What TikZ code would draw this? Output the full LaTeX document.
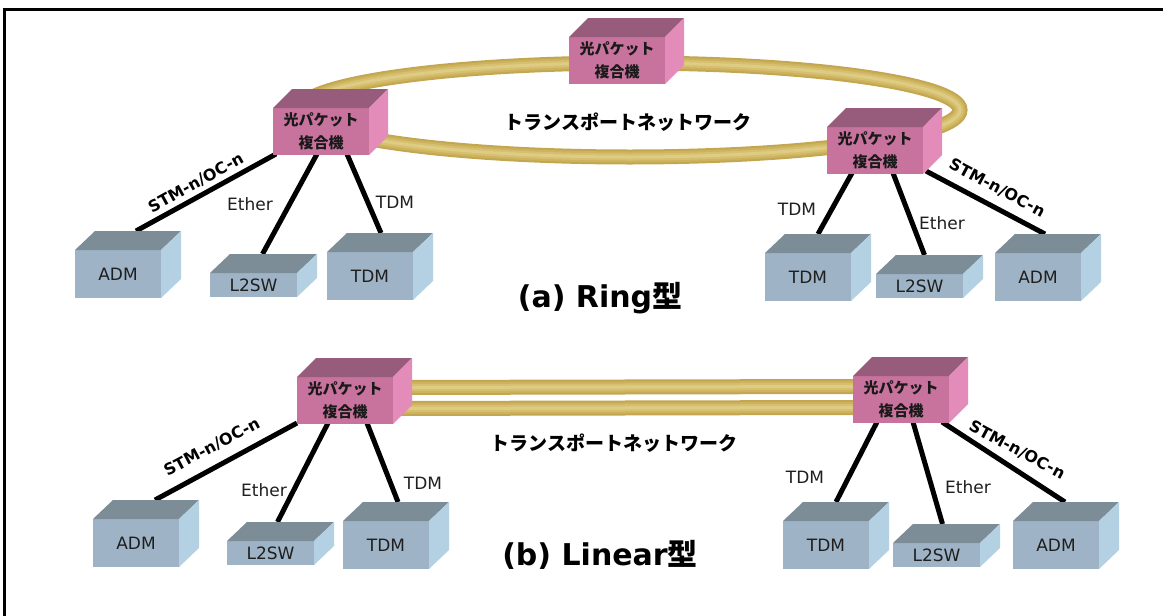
\documentclass[tikz,border=0pt]{standalone}
\usepackage{fontspec}
\setmainfont{DejaVu Sans}
\newfontfamily\jp{Noto Sans CJK JP}
\usetikzlibrary{calc,backgrounds}
\definecolor{mgF}{HTML}{C8739D}
\definecolor{mgT}{HTML}{975B7B}
\definecolor{mgS}{HTML}{E38CBA}
\definecolor{blF}{HTML}{9EB4C6}
\definecolor{blT}{HTML}{7C8D97}
\definecolor{blS}{HTML}{B3D1E3}
\definecolor{gdA}{HTML}{C3A650}
\definecolor{gdB}{HTML}{CDB35E}
\definecolor{gdC}{HTML}{D6C06F}
\definecolor{gdD}{HTML}{DECB84}
\tikzset{
  mgfront/.style={rectangle,fill=mgF,inner sep=0pt,outer sep=0pt,align=center,
    font=\jp\bfseries\fontsize{15}{23}\selectfont,text=black!90},
  mgtop/.style={fill=mgT}, mgside/.style={fill=mgS},
  blfront/.style={rectangle,fill=blF,inner sep=0pt,outer sep=0pt,align=center,
    font=\fontsize{17}{20}\selectfont,text=black!88},
  bltop/.style={fill=blT}, blside/.style={fill=blS},
  link/.style={line width=5pt,black},
  lab/.style={font=\fontsize{17}{20}\selectfont,text=black!88,inner sep=0pt},
  stmlab/.style={font=\bfseries\fontsize{16}{20}\selectfont,text=black,inner sep=0pt},
  netlab/.style={font=\jp\bfseries\fontsize{19}{22}\selectfont,text=black,inner sep=0pt},
  ttl/.style={font=\bfseries\fontsize{30}{34}\selectfont,text=black,inner sep=0pt},
  pipeA/.style={line width=15pt,gdA},
  pipeB/.style={line width=11pt,gdB},
  pipeC/.style={line width=7pt,gdC},
  pipeD/.style={line width=3pt,gdD},
}
\newcommand\cubo[9]{%
  \pgfmathsetmacro\cubW{#4-#2}\pgfmathsetmacro\cubH{#5-#3}%
  \node[#6front, minimum width=\cubW pt, minimum height=\cubH pt] (#1) at ({(#2+#4)/2},{(#3+#5)/2}) {#9};
  \fill[#6top] (#1.north west) -- ++(#7,#8) -- ++(\cubW,0) -- (#1.north east) -- cycle;
  \fill[#6side] (#1.north east) -- ++(#7,#8) -- ++(0,\cubH) -- (#1.south east) -- cycle;
}
\begin{document}
\begin{tikzpicture}[x=1pt,y=-1pt]
\useasboundingbox (0,0) rectangle (1163,616);
\clip (0,0) rectangle (1163,616);

% ---------- (a) Ring ----------
\cubo{m1}{273}{108}{369}{155}{mg}{19}{-19}{光パケット\\複合機}
\cubo{m2}{569}{37}{665}{84}{mg}{19}{-19}{光パケット\\複合機}
\cubo{m3}{827}{127}{923}{174}{mg}{19}{-19}{光パケット\\複合機}
\cubo{adm1}{75}{250}{161}{298}{bl}{20}{-19}{ADM}
\cubo{lsw1}{210}{273}{297}{297}{bl}{20}{-19}{L2SW}
\cubo{tdm1}{327}{252}{413}{300}{bl}{20}{-19}{TDM}
\cubo{tdm2}{765}{253}{851}{301}{bl}{20}{-19}{TDM}
\cubo{lsw2}{876}{274}{963}{298}{bl}{20}{-19}{L2SW}
\cubo{adm2}{995}{253}{1081}{301}{bl}{20}{-19}{ADM}

% ---------- (b) Linear ----------
\cubo{m4}{297}{377}{393}{424}{mg}{19}{-19}{光パケット\\複合機}
\cubo{m5}{853}{376}{949}{423}{mg}{19}{-19}{光パケット\\複合機}
\cubo{adm3}{93}{519}{179}{567}{bl}{20}{-19}{ADM}
\cubo{lsw3}{227}{541}{314}{565}{bl}{20}{-19}{L2SW}
\cubo{tdm3}{343}{521}{429}{569}{bl}{20}{-19}{TDM}
\cubo{tdm4}{783}{521}{869}{569}{bl}{20}{-19}{TDM}
\cubo{lsw4}{893}{543}{980}{567}{bl}{20}{-19}{L2SW}
\cubo{adm4}{1013}{521}{1099}{569}{bl}{20}{-19}{ADM}

\begin{scope}[on background layer]
  \fill[white] (0,0) rectangle (1163,616);
  \draw[line width=2.5pt] (4.5,700) -- (4.5,9.5) -- (1200,9.5);
  % ring
  \coordinate (ringc) at (630,110);
  \foreach \st in {pipeA,pipeB,pipeC,pipeD}
    \draw[\st] (ringc) ellipse [x radius=330, y radius=47];
  % linear pipes
  \foreach \yy in {0,21}{
    \foreach \st in {pipeA,pipeB,pipeC,pipeD}
      \draw[\st] ($(m4.east)+(0,-13+\yy)$) -- ($(m5.west)+(0,-13+\yy)$);
  }
  % ring connectors
  \draw[link] ($(m1.south west)+(3,-1)$) -- ($(adm1.north)+(18,-19)$);
  \draw[link] ($(m1.south)+(-4,-1)$) -- ($(lsw1.north)+(9,-19)$);
  \draw[link] ($(m1.south)+(26,-1)$) -- ($(tdm1.north)+(11,-19)$);
  \draw[link] ($(m3.south)+(-23,-1)$) -- ($(tdm2.north)+(10,-19)$);
  \draw[link] ($(m3.south)+(18,-1)$) -- ($(lsw2.north)+(5,-19)$);
  \draw[link] ($(m3.south east)+(3,-3)$) -- ($(adm2.north)+(7,-19)$);
  % linear connectors
  \draw[link] ($(m4.south west)+(0,-1)$) -- ($(adm3.north)+(19,-19)$);
  \draw[link] ($(m4.south)+(-17,-1)$) -- ($(lsw3.north)+(7,-19)$);
  \draw[link] ($(m4.south)+(22,-1)$) -- ($(tdm3.north)+(12,-19)$);
  \draw[link] ($(m5.south)+(-24,-1)$) -- ($(tdm4.north)+(10,-19)$);
  \draw[link] ($(m5.south)+(12,-1)$) -- ($(lsw4.north)+(6,-19)$);
  \draw[link] ($(m5.south east)+(-7,-1)$) -- ($(adm4.north)+(9,-19)$);
\end{scope}

% labels (a)
\node[stmlab,rotate=29] (s1) at (196,183) {STM-n/OC-n};
\node[lab] (e1) at (250,204) {Ether};
\node[lab] (t1) at (395,202) {TDM};
\node[lab] (t2) at (797,209) {TDM};
\node[lab] (e2) at (942,223) {Ether};
\node[stmlab,rotate=-28] (s2) at (997,188) {STM-n/OC-n};
\node[netlab] (net1) at (628,122) {トランスポートネットワーク};
\node[ttl] (ta) at (600,298) {(a) Ring{\jp\bfseries 型}};
% labels (b)
\node[stmlab,rotate=28] (s3) at (212,447) {STM-n/OC-n};
\node[lab] (e3) at (264,490) {Ether};
\node[lab] (t3) at (423,483) {TDM};
\node[lab] (t4) at (805,477) {TDM};
\node[lab] (e4) at (968,487) {Ether};
\node[stmlab,rotate=-28] (s4) at (1017,450) {STM-n/OC-n};
\node[netlab] (net2) at (614,443) {トランスポートネットワーク};
\node[ttl] (tb) at (600,555) {(b) Linear{\jp\bfseries 型}};
\end{tikzpicture}
\end{document}
